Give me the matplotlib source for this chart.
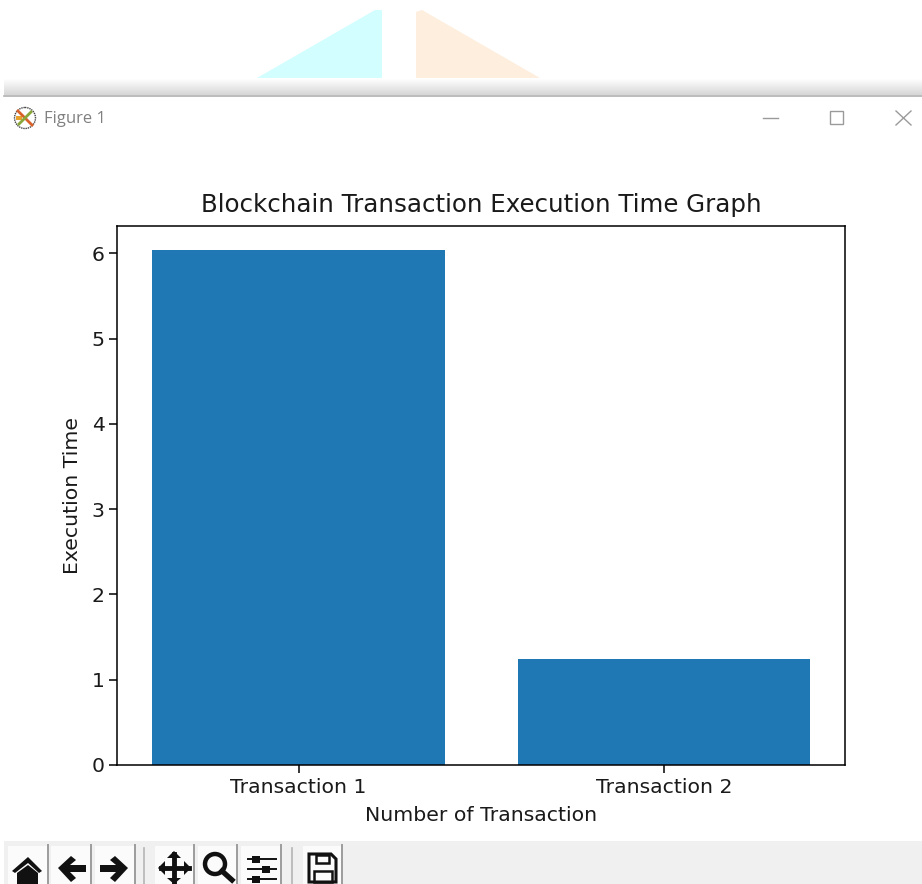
import matplotlib
matplotlib.use('Agg')
import numpy as np
import matplotlib.pyplot as plt
from matplotlib.patches import Polygon, Rectangle, Circle
from matplotlib.lines import Line2D

W, H = 922, 884

transactions = ['Transaction 1', 'Transaction 2']
exec_times = [6.04, 1.24]
y_ticks = [0, 1, 2, 3, 4, 5, 6]

fig = plt.figure(figsize=(W / 100, H / 100), dpi=100)

# Full-figure overlay in pixel coordinates for the window chrome
bg = fig.add_axes([0, 0, 1, 1], zorder=0)
bg.set_xlim(0, W)
bg.set_ylim(H, 0)
bg.axis('off')

# Pale triangles peeking out above the window
bg.add_patch(Polygon([(257, 78), (382, 78), (382, 10), (375, 10)], color='#d2feff', lw=0))
bg.add_patch(Polygon([(416, 78), (540, 78), (422, 10), (416, 12)], color='#feeedd', lw=0))

# Window shadow and title bar
shadow = np.linspace(1, 0.84, 17).reshape(-1, 1)
bg.imshow(shadow, cmap='gray', vmin=0, vmax=1, extent=(4, W, 95, 78), aspect='auto', zorder=1)
bg.set_xlim(0, W)
bg.set_ylim(H, 0)
bg.add_line(Line2D([4, W], [96, 96], color='#b0b0b0', lw=1.2, zorder=2))
bg.add_patch(Circle((25, 118), 10.5, fc='white', ec='#444444', lw=1, ls=(0, (1, 0.6))))
bg.add_line(Line2D([18, 32], [111, 125], color='#d9622b', lw=2))
bg.add_line(Line2D([19, 31], [124, 112], color='#8aa83a', lw=2))
bg.add_patch(Rectangle((16, 116), 6, 4, color='#e8a22c', lw=0))
bg.text(44, 119, 'Figure 1', fontsize=12, family='Open Sans',
        color='#808080', ha='left', va='center')
bg.add_line(Line2D([763, 778], [118, 118], color='#9a9a9a', lw=1))
bg.add_patch(Rectangle((830, 111), 13, 13, fc='none', ec='#9a9a9a', lw=1))
bg.add_line(Line2D([896, 911], [111, 125], color='#9a9a9a', lw=1))
bg.add_line(Line2D([896, 911], [125, 111], color='#9a9a9a', lw=1))

# Toolbar strip
bg.add_patch(Rectangle((4, 841), W - 4, 43, color='#f0f0f0', lw=0))
for x0, x1 in [(8, 47), (51, 90), (95, 134), (155, 193), (198, 236), (241, 280), (303, 341)]:
    bg.add_patch(Rectangle((x0, 846), x1 - x0, 38, color='#fbfbfb', lw=0))
    bg.add_line(Line2D([x1 + 1, x1 + 1], [845, 884], color='#9c9c9c', lw=1.4))
for x in [144, 292]:
    bg.add_line(Line2D([x, x], [848, 884], color='#b4b4b4', lw=1.2))

k = '#111111'
# home
bg.add_patch(Polygon([(12, 871), (28, 857), (42, 871), (39, 873), (28, 863), (15, 873)], color=k, lw=0))
bg.add_patch(Polygon([(17, 873), (28, 865), (38, 873), (38, 884), (17, 884)], color=k, lw=0))
# back / forward arrows
bg.add_patch(Polygon([(58, 868), (71, 856), (76, 860), (70, 865), (86, 865), (86, 872),
                      (70, 872), (76, 878), (71, 882)], color=k, lw=0))
bg.add_patch(Polygon([(128, 868), (115, 856), (110, 860), (116, 865), (100, 865), (100, 872),
                      (116, 872), (110, 878), (115, 882)], color=k, lw=0))
# move
bg.add_line(Line2D([174, 174], [854, 882], color=k, lw=3.5))
bg.add_line(Line2D([161, 189], [868, 868], color=k, lw=3.5))
bg.add_patch(Polygon([(167, 858), (174, 851), (181, 858)], color=k, lw=0))
bg.add_patch(Polygon([(167, 878), (174, 884), (181, 878)], color=k, lw=0))
bg.add_patch(Polygon([(165, 861), (158, 868), (165, 875)], color=k, lw=0))
bg.add_patch(Polygon([(184, 861), (191, 868), (184, 875)], color=k, lw=0))
# zoom
bg.add_patch(Circle((215, 864), 10, fc='none', ec=k, lw=3.2))
bg.add_line(Line2D([222, 232], [871, 880], color=k, lw=3.8))
# sliders
for y, cx in [(859, 256), (869, 266), (879, 256)]:
    bg.add_line(Line2D([248, 276], [y, y], color=k, lw=1.4))
    bg.add_patch(Rectangle((cx - 4, y - 3.5), 8, 7, color=k, lw=0))
# save
bg.add_patch(Polygon([(309, 854), (331, 854), (336, 859), (336, 882), (309, 882)],
                     fc='none', ec=k, lw=2.2))
bg.add_patch(Rectangle((316, 855), 13, 8, fc='none', ec=k, lw=1.8))
bg.add_patch(Rectangle((314, 871), 18, 11, fc='none', ec=k, lw=1.8))

# Chart
ax = fig.add_axes([117 / W, 1 - 765 / H, (845 - 117) / W, (765 - 226) / H], zorder=3)
ax.bar(transactions, exec_times, color='#1f77b4')
ax.set_xlim(-0.4966, 1.495)
ax.set_ylim(0, 6.32)
ax.set_yticks(y_ticks)
ax.tick_params(labelsize=14.7, length=5.5, width=1.1, labelcolor='#1a1a1a')
ax.tick_params(axis='x', pad=4)
for s in ax.spines.values():
    s.set_linewidth(1.1)
ax.set_title('Blockchain Transaction Execution Time Graph', fontsize=17.65, pad=10.2,
             color='#1a1a1a')
ax.set_xlabel('Number of Transaction', fontsize=14.7, labelpad=6.3, color='#1a1a1a')
ax.set_ylabel('Execution Time', fontsize=14.7, labelpad=6.5, color='#1a1a1a')

fig.savefig('out.png', dpi=100)
